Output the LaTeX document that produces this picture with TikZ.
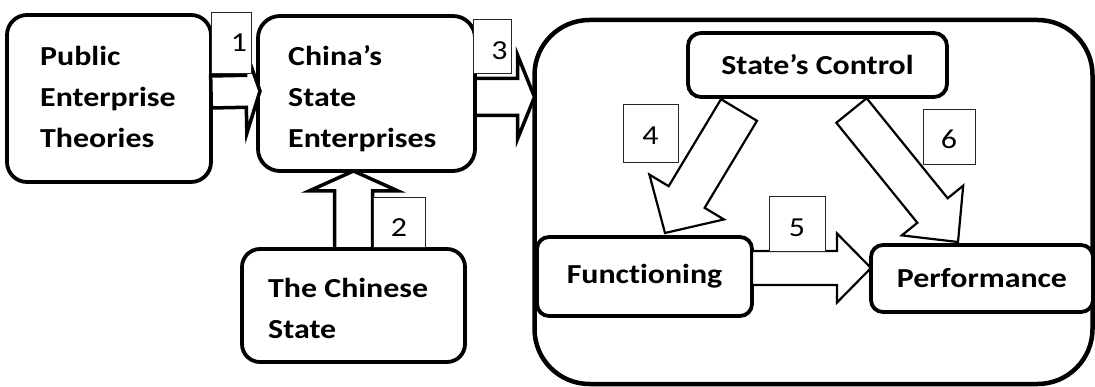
\documentclass[tikz,border=0pt]{standalone}
\usepackage{fontspec}
\setmainfont{Carlito}[FakeStretch=1.16, Ligatures=NoCommon]
\usepackage{tikz}
\usetikzlibrary{calc, positioning}

\newcommand{\blockarrow}[6][]{%
  \path (#2) coordinate (ba-tail) (#3) coordinate (ba-tip);
  \path ($(ba-tip)!#6!(ba-tail)$) coordinate (ba-base);
  \draw[#1] ($(ba-tail)!#4!90:(ba-tip)$) -- ($(ba-base)!#4!90:(ba-tip)$)
    -- ($(ba-base)!#5!90:(ba-tip)$) -- (ba-tip)
    -- ($(ba-base)!#5!-90:(ba-tip)$) -- ($(ba-base)!#4!-90:(ba-tip)$)
    -- ($(ba-tail)!#4!-90:(ba-tip)$) -- cycle;
}

\begin{document}
\begin{tikzpicture}[
        x=1pt, y=-1pt,
        box/.style={rectangle, draw=black, line width=3.8pt, fill=white, rounded corners=18pt,
                    inner sep=0pt, outer sep=0pt},
        boxtext/.style={font=\bfseries\fontsize{27.5}{41}\selectfont, align=left,
                    inner sep=0pt, anchor=base west},
        title/.style={font=\bfseries\fontsize{27.5}{33}\selectfont},
        numbox/.style={rectangle, draw=black!85, line width=0.8pt, fill=white, inner sep=0pt,
                    text height=26pt, text depth=0pt, font=\fontsize{27.5}{33}\selectfont},
        fatarrow/.style={draw=black, fill=white, line width=3.5pt},
        thinarrow/.style={draw=black, fill=white, line width=2.2pt}
    ]
        \useasboundingbox (0,0) rectangle (1095,387);

        \node[box, line width=4.5pt, rounded corners=55pt, minimum width=558pt, minimum height=364pt] (analysis) at (813.5,202) {};

        \node[box, rounded corners=20pt, minimum width=204pt, minimum height=167pt] (theories) at (109,98.5) {};
        \node[box, rounded corners=22pt, minimum width=217pt, minimum height=155pt, right=47pt of theories, yshift=5pt] (enterprises) {};
        \node[box, minimum width=223pt, minimum height=113pt, below=78pt of enterprises, xshift=-13pt] (chinesestate) {};

        \node[boxtext] (theoriestext) at ([xshift=33pt, yshift=-133pt]theories.north west) {Public\\Enterprise\\Theories};
        \node[boxtext] (enterprisestext) at ([xshift=30pt, yshift=-132pt]enterprises.north west) {China’s\\State\\Enterprises};
        \node[boxtext] (chinesestatetext) at ([xshift=26pt, yshift=-89pt]chinesestate.north west) {The Chinese\\State};

        \node[box, title, rounded corners=13pt, minimum width=259pt, minimum height=64pt] (control) at (817.5,65) {State’s Control\hspace{8pt}};
        \node[box, title, rounded corners=12pt, minimum width=215pt, minimum height=79pt] (functioning) at (644.5,276.5) {Functioning\hspace{6pt}};
        \node[box, title, rounded corners=12pt, minimum width=222pt, minimum height=67pt, right=119pt of functioning, yshift=-2pt] (performance) {Performance};

        \blockarrow[fatarrow]{[yshift=6.5pt]theories.east}{[xshift=2pt, yshift=2.5pt]enterprises.west}{16pt}{42pt}{14pt}
        \blockarrow[fatarrow]{chinesestate.north}{chinesestate.north |- enterprises.south}{19pt}{44.5pt}{20pt}
        \blockarrow[fatarrow]{[yshift=-3.5pt]enterprises.east}{$(enterprises.east -| analysis.west)+(0,3.5)$}{18.5pt}{42pt}{17pt}

        \blockarrow[thinarrow]{$(control.south)+(-78.5,13)$}{$(functioning.north)+(20.5,-4)$}{21pt}{43.5pt}{42pt}
        \blockarrow[thinarrow]{[yshift=8.5pt]functioning.east}{$(functioning.east -| performance.west)+(0,-8.5)$}{17pt}{34.5pt}{34pt}
        \blockarrow[thinarrow]{$(control.south)+(34,13.5)$}{$(performance.north)+(-24,-3)$}{19.5pt}{39.5pt}{40.5pt}

        \node[numbox, minimum width=40pt, minimum height=61pt, text width=32pt, align=right, text height=19pt] (num1) at (231,42.5) {1};
        \node[numbox, minimum width=52pt, minimum height=50pt, text height=30pt] (num2) at (399,222) {2};
        \node[numbox, minimum width=38pt, minimum height=54pt, text width=31pt, align=right, text height=28pt] (num3) at (492,46) {3};
        \node[numbox, minimum width=55pt, minimum height=58pt, text height=24pt] (num4) at (650.5,133) {4};
        \node[numbox, minimum width=56pt, minimum height=55pt, text height=27pt] (num5) at (797,223.5) {5};
        \node[numbox, minimum width=52pt, minimum height=55pt, text height=25pt] (num6) at (949,136.5) {6};
    \end{tikzpicture}
\end{document}
